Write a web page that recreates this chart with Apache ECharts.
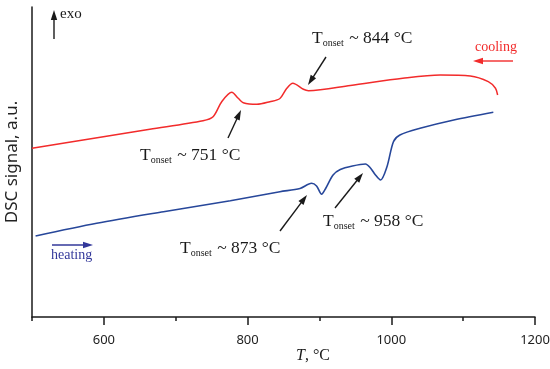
<!DOCTYPE html>
<html>
<head>
<meta charset="utf-8">
<script src="https://cdn.jsdelivr.net/npm/echarts@6/dist/echarts.min.js"></script>
<style>html,body{margin:0;padding:0;background:#fff}#c{width:550px;height:369px}</style>
</head>
<body>
<div id="c"></div>
<script>
// Temperature (°C) and DSC signal (a.u.)
var coolingT = [500,595,664,738,752,764,778,787,794,813,831,845,854.6,863,877.7,884.7,943,1016,1068,1110,1135,1145,1148];
var coolingS = [168.7,179.7,187.7,196.3,200.3,215.3,224.7,218.7,214.3,212.7,215.3,218.5,228.7,233.7,227.7,226.3,231.5,238.7,242,241,235.3,228.7,222];
var heatingT = [505,590,683,776,845,873,889,896,903,909,919,929,946,964,971,978,985,994,1003,1012,1040,1087,1142];
var heatingS = [81,93.7,105.3,116.3,125.3,128.5,133.7,131,122.8,129,142,147.5,151,153,149,142,137,150.3,175.3,182,188.7,197,204.7];
var majorTicks = [600,800,1000,1200];
var minorTicks = [500,700,900,1100];

function pairs(a,b){return a.map(function(v,i){return [v,b[i]];});}

var RED = '#f22b2b', BLUE = '#27479a', INK = '#1a1a1a';
var serif = 'Liberation Serif';

function arrow(x1,y1,x2,y2,color){
  var dx=x2-x1, dy=y2-y1, L=Math.sqrt(dx*dx+dy*dy), ux=dx/L, uy=dy/L;
  var hl=10, hw=3.2;
  var bx=x2-ux*hl, by=y2-uy*hl;
  return [
    {type:'line', shape:{x1:x1,y1:y1,x2:bx+ux*2,y2:by+uy*2}, style:{stroke:color,lineWidth:1.4}},
    {type:'polygon', shape:{points:[[x2,y2],[bx-uy*hw,by+ux*hw],[bx+uy*hw,by-ux*hw]]}, style:{fill:color}}
  ];
}
function onset(x,y,val){
  return {type:'text', left:x, top:y, style:{
    text:'{t|T}{s|onset}{t| ~ '+val+' °C}',
    rich:{
      t:{fontFamily:serif,fontSize:17.5,fill:INK,verticalAlign:'bottom',lineHeight:20},
      s:{fontFamily:serif,fontSize:10,fill:INK,verticalAlign:'bottom',lineHeight:10,padding:[0,1,-1,0]}
    }}};
}

var g = [];
g = g.concat(arrow(54,39,54,10,INK));
g.push({type:'text', left:60, top:7, style:{text:'exo',fontFamily:serif,fontSize:15,fill:INK}});
g.push({type:'text', left:475, top:40, style:{text:'cooling',fontFamily:serif,fontSize:14,fill:RED}});
g = g.concat(arrow(513,61,473,61,RED));
g.push({type:'text', left:51, top:248, style:{text:'heating',fontFamily:serif,fontSize:14,fill:'#33389a'}});
g = g.concat(arrow(52,245,93,245,'#33389a'));
g = g.concat(arrow(326,57,308,85,INK));
g = g.concat(arrow(228,138,241,110,INK));
g = g.concat(arrow(280,231,307,195,INK));
g = g.concat(arrow(335,208,363,173,INK));
g.push(onset(312,29,'844'));
g.push(onset(140,146,'751'));
g.push(onset(180,239,'873'));
g.push(onset(323,212,'958'));
g.push({type:'text', left:296, top:348, style:{
  text:'{i|T}{n|, °C}',
  rich:{i:{fontFamily:serif,fontStyle:'italic',fontSize:16,fill:INK},n:{fontFamily:serif,fontSize:16,fill:INK}}}});

var chart = echarts.init(document.getElementById('c'));
chart.setOption({
  animation:false,
  backgroundColor:'#fff',
  grid:{left:32,right:15,top:7,bottom:52,containLabel:false,outerBoundsMode:'none'},
  xAxis:[{
    type:'value', min:500, max:1200,
    axisLine:{lineStyle:{color:INK,width:1.5}},
    axisTick:{customValues:majorTicks,length:8,lineStyle:{color:INK,width:1.5}},
    axisLabel:{customValues:majorTicks,margin:17,fontFamily:'Noto Sans',fontSize:13,color:'#222',
      formatter:function(v){return String(v);}},
    splitLine:{show:false}
  },{
    type:'value', min:500, max:1200, position:'bottom',
    axisLine:{show:false},
    axisTick:{customValues:minorTicks,length:4,lineStyle:{color:INK,width:1.5}},
    axisLabel:{show:false}, splitLine:{show:false}
  }],
  yAxis:{
    type:'value', min:0, max:310,
    name:'DSC signal, a.u.', nameLocation:'middle', nameGap:11,
    nameTextStyle:{fontFamily:'Noto Sans',fontSize:17,color:'#222'},
    axisLine:{show:true,lineStyle:{color:INK,width:1.5}},
    axisTick:{show:false}, axisLabel:{show:false}, splitLine:{show:false}
  },
  series:[
    {type:'line', data:pairs(coolingT,coolingS), smooth:0.3, showSymbol:false, lineStyle:{color:RED,width:1.5}},
    {type:'line', data:pairs(heatingT,heatingS), smooth:0.3, showSymbol:false, lineStyle:{color:BLUE,width:1.6}}
  ],
  graphic:g
});
</script>
</body>
</html>
